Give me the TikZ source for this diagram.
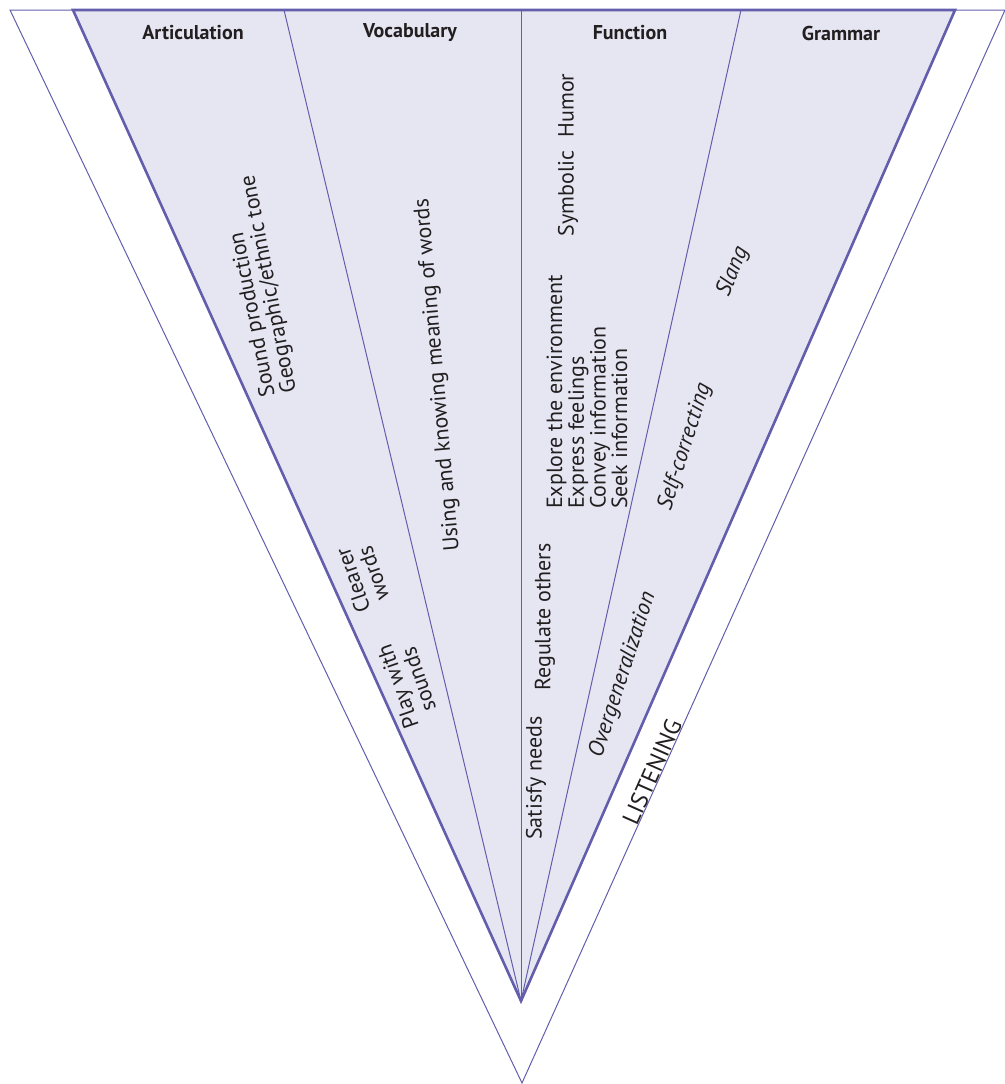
\documentclass[tikz,border=0pt]{standalone}
\usepackage{fontspec}
\setmainfont{PT Sans}
\usepackage{xcolor}

\definecolor{wedgeline}{RGB}{98,94,172}
\definecolor{wedgefill}{RGB}{230,230,243}
\definecolor{inktext}{RGB}{35,31,32}

\tikzset{
  head/.style={font=\fontsize{20}{22}\selectfont\bfseries, text=inktext},
  item/.style={font=\fontsize{22}{21.7}\selectfont, text=inktext, inner sep=0pt},
  itemit/.style={item, font=\fontsize{22.5}{22}\selectfont\itshape},
}

\begin{document}
\begin{tikzpicture}[x=1pt,y=-1pt]
                \useasboundingbox (0,0) rectangle (1004,1084);

                \coordinate (otl) at (10,10);
                \coordinate (otr) at (1005,10);
                \coordinate (obot) at (522,1083);

                \coordinate (itl) at (73,10);
                \coordinate (itr) at (955,10);
                \coordinate (apex) at (521,1001);

                \coordinate (voc) at (284,10);
                \coordinate (fun) at (521,10);
                \coordinate (gra) at (741,10);

                \draw[wedgeline, line width=1pt] (otl) -- (otr) -- (obot) -- cycle;

                \fill[wedgefill] (itl) -- (itr) -- (apex) -- cycle;

                \draw[wedgeline, line width=1pt] (apex) -- (voc);
                \draw[wedgeline, line width=1pt] (apex) -- (fun);
                \draw[wedgeline, line width=1pt] (apex) -- (gra);

                \draw[wedgeline, line width=2.6pt, line join=miter] (itl) -- (itr) -- (apex) -- cycle;

                \node[head] (hart) at (193,33) {Articulation};
                \node[head] (hvoc) at (410,33) {Vocabulary};
                \node[head] (hfun) at (630,33) {Function};
                \node[head] (hgra) at (841,33) {Grammar};

                \node[item, rotate=101, align=left] (sound) at (259,286) {Sound production\\Geographic/ethnic tone};
                \node[item, rotate=109, align=center] (clear) at (363,577) {Clearer\\words};
                \node[item, rotate=109, align=center] (play) at (408,683) {Play with\\sounds};

                \node[item, rotate=95] (using) at (438,375) {Using and knowing meaning of words};

                \node[item, rotate=90] (symb) at (568,155) {Symbolic\hspace{0.6em}Humor};
                \node[item, rotate=90, align=left] (expl) at (587,392) {Explore the environment\\Express feelings\\Convey information\\Seek information};
                \node[item, rotate=90] (regu) at (545,617) {Regulate others};
                \node[item, rotate=90] (sati) at (536,778) {Satisfy needs};

                \node[itemit, rotate=68] (slang) at (733,272) {Slang};
                \node[itemit, rotate=72.5] (selfc) at (685,447) {Self-correcting};
                \node[itemit, rotate=72] (overg) at (623,675) {Overgeneralization};

                \node[item, font=\fontsize{24}{24}\selectfont, rotate=66] (listen) at (652,772) {LISTENING};
\end{tikzpicture}
\end{document}
